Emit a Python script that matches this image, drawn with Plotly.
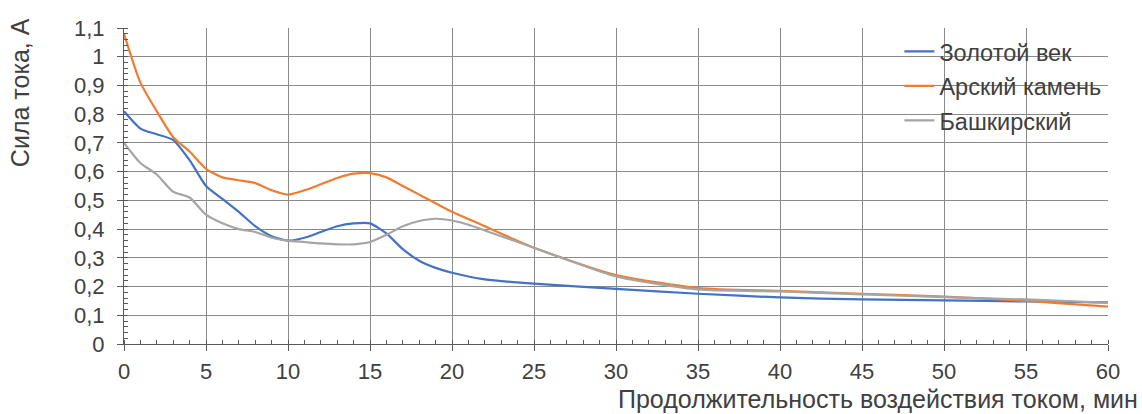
import plotly.graph_objects as go

# Время воздействия током, мин
minutes = [0, 1, 2, 3, 4, 5, 6, 7, 8, 9, 10, 11, 12, 13, 14, 15, 16, 17, 18, 19,
           20, 21, 22, 25, 30, 35, 40, 45, 50, 55, 60]

# Сила тока, А
zolotoy_vek = [0.81, 0.75, 0.73, 0.71, 0.64, 0.55, 0.505, 0.46, 0.41, 0.375, 0.36,
               0.37, 0.39, 0.41, 0.42, 0.42, 0.385, 0.33, 0.29, 0.265, 0.248, 0.235,
               0.225, 0.21, 0.192, 0.175, 0.162, 0.155, 0.152, 0.148, 0.145]
arsky_kamen = [1.08, 0.91, 0.81, 0.72, 0.67, 0.61, 0.58, 0.57, 0.56, 0.535, 0.52,
               0.535, 0.556, 0.578, 0.593, 0.595, 0.58, 0.55, 0.52, 0.49, 0.46, 0.435,
               0.41, 0.335, 0.24, 0.195, 0.185, 0.175, 0.165, 0.15, 0.13]
bashkirsky = [0.70, 0.63, 0.59, 0.53, 0.51, 0.45, 0.42, 0.40, 0.39, 0.37, 0.36,
              0.355, 0.35, 0.347, 0.347, 0.355, 0.38, 0.41, 0.428, 0.436, 0.43, 0.415,
              0.395, 0.335, 0.235, 0.19, 0.183, 0.173, 0.163, 0.155, 0.143]

series = [
    ("Золотой век", zolotoy_vek, "#4472C4"),
    ("Арский камень", arsky_kamen, "#ED7D31"),
    ("Башкирский", bashkirsky, "#A5A5A5"),
]

x_ticks = list(range(0, 61, 5))
y_ticks = [round(i * 0.1, 1) for i in range(12)]

font_family = "Liberation Sans, Arial, sans-serif"
text_color = "#404040"

fig = go.Figure()
for name, values, color in series:
    fig.add_trace(go.Scatter(
        x=minutes, y=values, name=name, mode="lines", legendgroup=name,
        line=dict(color=color, width=2.2, shape="spline", smoothing=0.6),
    ))

axis_common = dict(
    showgrid=True, gridcolor="#8a8a8a", gridwidth=1,
    showline=True, linecolor="#595959", linewidth=1,
    ticks="outside", ticklen=6, tickcolor="#595959",
    zeroline=False,
    tickfont=dict(family=font_family, size=22, color=text_color),
)

fig.update_xaxes(
    range=[0, 60], tickvals=x_ticks, ticklabelstandoff=2,
    minor=dict(dtick=1, ticks="inside", ticklen=4, tickcolor="#595959", showgrid=False),
    **axis_common,
)
fig.update_yaxes(
    range=[0, 1.1], tickvals=y_ticks, ticklabelstandoff=8,
    minor=dict(dtick=0.02, ticks="inside", ticklen=4, tickcolor="#595959", showgrid=False),
    **axis_common,
)

fig.update_layout(
    width=1142, height=414,
    margin=dict(l=124, r=34, t=28, b=70),
    paper_bgcolor="white", plot_bgcolor="white",
    separators=", ",
    font=dict(family=font_family, size=22, color=text_color),
    showlegend=True,
    legend=dict(
        x=0.788, y=0.995, xanchor="left", yanchor="top",
        bgcolor="rgba(0,0,0,0)", borderwidth=0, tracegroupgap=1,
        font=dict(family=font_family, size=23.5, color=text_color),
    ),
    shapes=[
        # white panel behind the legend, covering the grid
        dict(type="rect", xref="paper", yref="paper", layer="between",
             x0=0.752, x1=0.999, y0=0.636, y1=0.998,
             fillcolor="white", line=dict(width=0)),
    ],
    annotations=[
        dict(text="Сила тока, А", textangle=-90, xref="paper", yref="paper",
             x=-0.1057, y=0.797, xanchor="center", yanchor="middle",
             showarrow=False, font=dict(size=25, color=text_color)),
        dict(text="Продолжительность воздействия током, мин", xref="paper", yref="paper",
             x=1.0325, y=-0.173, xanchor="right", yanchor="middle",
             showarrow=False, font=dict(size=25, color=text_color)),
    ],
)

fig.write_html("out.html")
